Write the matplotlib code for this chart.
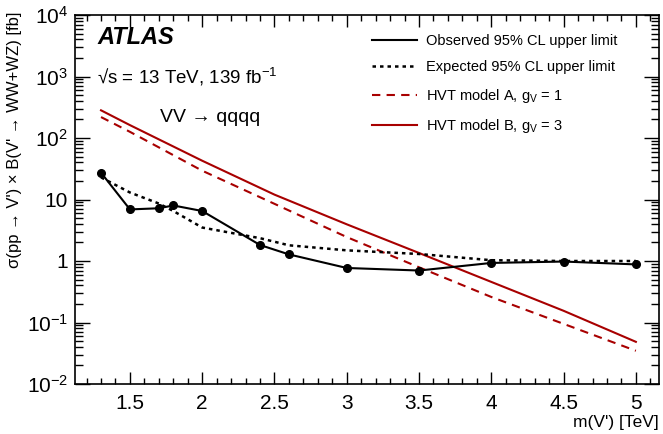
import numpy as np
import matplotlib
matplotlib.use('Agg')
import matplotlib.pyplot as plt
from matplotlib.ticker import FixedLocator, FuncFormatter, LogLocator, NullFormatter, MultipleLocator

plt.rcParams['font.family'] = ['Liberation Sans', 'DejaVu Sans']
plt.rcParams['mathtext.fontset'] = 'custom'
plt.rcParams['mathtext.rm'] = 'Liberation Sans'
plt.rcParams['mathtext.it'] = 'Liberation Sans:italic'
plt.rcParams['mathtext.bf'] = 'Liberation Sans:bold'

# observed / expected limits
mass = [1.3, 1.5, 1.7, 1.8, 2.0, 2.4, 2.6, 3.0, 3.5, 4.0, 4.5, 5.0]
obs = [27.3, 6.9, 7.2, 8.0, 6.5, 1.82, 1.28, 0.77, 0.70, 0.93, 0.98, 0.88]
exp = [22.9, 13.0, 8.6, 6.5, 3.5, 2.35, 1.8, 1.49, 1.3, 1.03, 1.0, 1.0]

# HVT theory curves
mass_hvt = [1.3, 1.5, 2.0, 2.5, 3.0, 3.5, 4.0, 4.5, 5.0]
hvt_a = [219, 126, 29.4, 8.5, 2.45, 0.79, 0.26, 0.095, 0.0347]
hvt_b = [282, 162, 42.7, 12.0, 3.95, 1.35, 0.457, 0.155, 0.0485]

darkred = '#a80000'

fig = plt.figure(figsize=(6.63, 4.34), dpi=100)
ax = fig.add_axes([75/663, 1 - 384/434, (659 - 75)/663, (384 - 15)/434])

ax.plot(mass, obs, color='black', lw=1.5, marker='o', ms=5.5, label='Observed 95% CL upper limit', zorder=5)
ax.plot(mass, exp, color='black', lw=1.8, ls=(0, (1.4, 1.6)), label='Expected 95% CL upper limit', zorder=4)
ax.plot(mass_hvt, hvt_a, color=darkred, lw=1.5, ls=(0, (4, 3)), label=r'HVT model A, g$_\mathregular{V}$ = 1')
ax.plot(mass_hvt, hvt_b, color=darkred, lw=1.5, label=r'HVT model B, g$_\mathregular{V}$ = 3')

ax.set_yscale('log')
ax.set_xlim(1.12, 5.16)
ax.set_ylim(1e-2, 1e4)

ax.xaxis.set_major_locator(MultipleLocator(0.5))
ax.xaxis.set_minor_locator(MultipleLocator(0.1))
ax.xaxis.set_major_formatter(FuncFormatter(lambda v, p: '%g' % v))
ax.yaxis.set_major_locator(FixedLocator([1e-2, 1e-1, 1, 10, 1e2, 1e3, 1e4]))
ax.yaxis.set_minor_locator(LogLocator(base=10, subs=np.arange(2, 10), numticks=20))
ax.yaxis.set_minor_formatter(NullFormatter())


def ylab(v, p):
    e = int(round(np.log10(v)))
    if e == 0:
        return '1'
    if e == 1:
        return '10'
    return r'10$^{\mathregular{%d}}$' % e if e > 0 else r'10$^{\mathregular{-%d}}$' % (-e)


ax.yaxis.set_major_formatter(FuncFormatter(ylab))

ax.tick_params(which='both', direction='in', top=True, right=True, labelsize=15, width=1)
ax.tick_params(axis='x', which='major', length=8.5, pad=7)
ax.tick_params(axis='x', which='minor', length=4.3)
ax.tick_params(axis='y', which='major', length=11, pad=5)
ax.tick_params(axis='y', which='minor', length=5.5)
for s in ax.spines.values():
    s.set_linewidth(1.2)

leg = ax.legend(loc='upper left', bbox_to_anchor=(372/663, 1 - 34/434), bbox_transform=fig.transFigure,
                frameon=False, fontsize=10.5, handlelength=3.1, handletextpad=0.6, labelspacing=0.85,
                borderpad=0, borderaxespad=0)
for h in leg.get_lines():
    h.set_marker('')

fig.text(97/663, 1 - 37/434, 'ATLAS', fontsize=17, fontweight='bold', fontstyle='italic', va='center')
fig.text(97/663, 1 - 77/434, '√s = 13 TeV, 139 fb$^{\\mathregular{-1}}$', fontsize=13.5, va='center')
fig.text(160/663, 1 - 118/434, 'VV → qqqq', fontsize=14, va='center')

fig.text(15/663, 1 - 12/434, "σ(pp → V') × B(V' → WW+WZ) [fb]", rotation=90, fontsize=12,
         ha='center', va='top')
fig.text(659/663, 1 - 422/434, "m(V') [TeV]", fontsize=12.5, ha='right', va='center')

fig.savefig('out.png', dpi=100)
